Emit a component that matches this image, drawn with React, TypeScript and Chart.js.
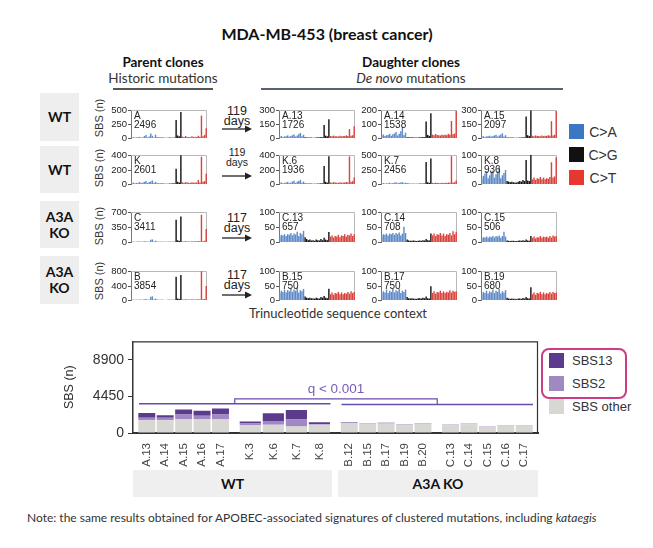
import React, { useEffect, useRef } from "react";
import { Chart, registerables } from "chart.js";
Chart.register(...registerables);

const SANS = "'Liberation Sans', Arial, Helvetica, sans-serif";
const HEAD = "Lato, 'Open Sans', sans-serif";

// ---------- mini trinucleotide spectra (16 C>A, 16 C>G, 16 C>T contexts) ----------
const mutationTypes = ["C>A", "C>G", "C>T"];
const typeBarColors = ["#5f8bc8", "#151515", "#d8443d"];
const typeLegendColors = ["#3a78c4", "#111111", "#e8372f"];

const specA = [10,15,8,12, 14,20,8,15, 35,55,12,25, 80,40,10,60,
  10,8,6,8, 6,5,4,6, 8,6,5,8, 320,45,30,465,
  25,18,35,20, 18,15,30,18, 22,18,40,22, 400,30,55,175];
const specA13 = [15,22,12,18, 20,28,14,22, 30,38,16,28, 42,55,18,35,
  8,6,4,6, 5,4,3,5, 8,6,10,8, 140,25,18,200,
  22,18,26,20, 18,16,24,18, 22,20,28,22, 95,24,30,127];
const specA14 = [18,25,14,20, 22,30,16,26, 32,42,18,30, 48,75,20,38,
  6,5,4,5, 4,3,3,4, 6,5,8,6, 117,22,15,176,
  24,20,28,22, 20,18,24,20, 24,20,30,24, 122,26,32,195];
const specA15 = [14,20,12,18, 18,25,14,22, 28,35,15,26, 38,50,16,30,
  6,5,4,5, 4,3,3,4, 6,5,8,6, 230,30,20,295,
  24,20,28,22, 22,18,26,20, 24,22,30,24, 180,28,35,290];
const specK = [12,20,10,15, 18,26,12,20, 30,40,14,28, 35,48,15,30,
  8,6,5,6, 5,4,4,5, 8,6,10,8, 212,30,20,395,
  22,18,26,20, 18,16,24,18, 22,20,56,22, 376,30,40,140];
const specK6 = [14,22,10,16, 20,30,12,22, 34,44,14,30, 40,55,16,34,
  8,6,5,6, 5,4,4,5, 8,6,10,8, 250,30,18,383,
  22,18,26,20, 18,16,24,18, 22,20,28,22, 380,30,40,90];
const specK7 = [10,16,8,12, 14,22,10,16, 24,30,12,20, 28,35,12,22,
  8,6,5,6, 5,4,4,5, 8,6,10,8, 380,30,20,440,
  20,16,24,18, 16,14,22,16, 20,18,26,20, 480,26,32,60];
const specK8 = [18,28,36,44, 20,30,40,46, 22,34,44,60, 20,30,38,48,
  10,8,6,8, 6,5,5,8, 10,8,14,10, 83,12,10,100,
  16,22,14,20, 18,24,16,22, 16,20,18,24, 75,22,26,92];
const specC = [8,12,6,10, 10,14,6,12, 15,20,8,14, 55,60,10,30,
  6,5,4,5, 4,3,3,4, 6,5,8,6, 517,40,25,597,
  15,12,20,14, 12,10,18,12, 15,14,22,15, 636,20,30,302];
const specC13 = [18,24,22,26, 20,26,24,30, 22,28,25,34, 20,30,26,37,
  16,10,6,8, 5,6,4,8, 6,5,10,6, 14,8,6,33,
  18,22,15,20, 18,24,16,22, 20,26,18,24, 22,28,20,26];
const specC14 = [20,26,24,28, 22,28,26,30, 24,30,26,32, 22,28,51,30,
  8,5,4,4, 5,4,3,4, 5,4,6,5, 10,6,5,28,
  22,28,20,26, 24,30,22,28, 20,26,24,30, 22,36,26,34];
const specC15 = [12,16,15,18, 14,18,16,20, 15,20,18,22, 14,20,34,18,
  5,4,3,4, 4,3,3,4, 5,4,6,4, 8,5,4,20,
  14,18,12,16, 15,20,14,18, 16,18,14,20, 15,22,18,20];
const specB = [8,12,6,10, 10,15,6,12, 18,25,8,15, 90,100,12,40,
  6,5,4,5, 4,3,3,4, 6,5,8,6, 644,40,25,690,
  15,12,20,14, 12,10,18,12, 15,14,22,15, 790,20,30,386];
const specB15 = [24,32,28,36, 26,34,30,40, 28,36,32,44, 26,34,30,38,
  12,8,6,8, 6,5,5,8, 6,5,10,8, 14,8,6,39,
  20,26,18,24, 22,28,20,26, 20,24,22,28, 22,30,24,28];
const specB17 = [22,30,26,36, 24,32,28,38, 26,34,30,40, 24,32,28,36,
  10,6,5,6, 5,4,4,6, 6,5,8,6, 12,6,5,47,
  24,30,22,28, 26,32,24,30, 24,28,26,34, 26,32,28,30];
const specB19 = [20,28,24,32, 22,30,26,36, 24,32,28,38, 22,30,26,34,
  8,5,4,5, 4,4,3,5, 5,4,7,5, 10,6,5,44,
  20,26,18,24, 22,28,20,26, 20,24,22,28, 22,28,24,26];

const panelNames = ["A","A.13","A.14","A.15","K","K.6","K.7","K.8","C","C.13","C.14","C.15","B","B.15","B.17","B.19"];
const panelTotals = ["2496","1726","1538","2097","2601","1936","2456","936","3411","657","708","506","3854","750","750","680"];
const panelMax = [500,300,200,300, 400,400,500,100, 700,100,100,100, 800,100,100,100];
const panelSpectra = [specA,specA13,specA14,specA15, specK,specK6,specK7,specK8, specC,specC13,specC14,specC15, specB,specB15,specB17,specB19];

const rowLabels = [["WT"],["WT"],["A3A","KO"],["A3A","KO"]];
const rowDays = ["119","119","117","117"];

// ---------- main stacked chart ----------
const cloneLabels = ["A.13","A.14","A.15","A.16","A.17","K.3","K.6","K.7","K.8","B.12","B.15","B.17","B.19","B.20","C.13","C.14","C.15","C.16","C.17"];
const cloneSubgroup = ["A","A","A","A","A","K","K","K","K","B","B","B","B","B","C","C","C","C","C"];
const subgroups = ["A","K","B","C"];
const conditionLabels = ["WT","A3A KO"];
const sbsOther = [1550,1550,1700,1700,1700, 970,1000,780,1000, 1220,1120,1160,1000,1120, 950,1070,720,840,840];
const sbs2 = [310,310,540,390,540, 190,460,850,80, 30,30,30,30,30, 20,20,20,20,20];
const sbs13 = [580,310,620,620,740, 230,930,1160,230, 50,50,50,50,50, 30,30,30,30,30];
const conditionMeans = [3550, 3480];
const bracketLevel = 4150;
const qLabel = "q < 0.001";
const yTicks = [0, 4450, 8900];
const yMax = 11150;

const layerNames = ["SBS other", "SBS2", "SBS13"];
const layerColors = ["#d9d7d3", "#a089c2", "#5c3b8e"];
const purple = "#6a4cae";

// ---------- geometry ----------
const rowTop = [110, 155, 212, 271];
const rowBottom = [138, 184, 242, 300];
const colLeft = [131, 279, 381, 481];
const colRight = [207, 355, 457, 557];
const sbsLabelY = [118, 168, 226, 281];
const rowBoxTop = [93, 146, 201, 256];
const rowBoxBottom = [141, 193, 248, 304];

function abs(x: number, y: number, extra: any = {}): React.CSSProperties {
  return { position: "absolute", left: x, top: y, transform: "translate(-50%,-50%)", whiteSpace: "nowrap", ...extra };
}

function MiniSpectrum({ idx }: { idx: number }) {
  const ref = useRef<HTMLCanvasElement>(null);
  const row = Math.floor(idx / 4), col = idx % 4;
  const AXW = 30, PT = 6, PB = 6;
  const w = colRight[col] - colLeft[col] + AXW;
  const h = rowBottom[row] - rowTop[row] + PT + PB;
  useEffect(() => {
    const values = panelSpectra[idx];
    const max = panelMax[idx];
    const tickValues = [0, max / 2, max];
    const per = values.length / mutationTypes.length;
    const framePlugin = {
      id: "frame",
      beforeDatasetsDraw(chart: any) {
        const { ctx, chartArea: a } = chart;
        ctx.save();
        ctx.strokeStyle = "#b8b8b8";
        ctx.lineWidth = 1;
        ctx.beginPath();
        ctx.moveTo(a.left, a.top + 0.5);
        ctx.lineTo(a.right - 0.5, a.top + 0.5);
        ctx.lineTo(a.right - 0.5, a.bottom);
        ctx.stroke();
        ctx.restore();
      },
      afterDraw(chart: any) {
        const { ctx, chartArea: a, scales } = chart;
        ctx.save();
        ctx.strokeStyle = "#555";
        ctx.lineWidth = 1;
        ctx.fillStyle = "#222";
        ctx.font = `9.5px ${SANS}`;
        ctx.textAlign = "right";
        ctx.textBaseline = "middle";
        tickValues.forEach((v) => {
          const y = Math.round(scales.y.getPixelForValue(v)) + 0.5;
          ctx.beginPath();
          ctx.moveTo(a.left - 3, y);
          ctx.lineTo(a.left, y);
          ctx.stroke();
          ctx.fillText(String(v), a.left - 4, y);
        });
        ctx.fillStyle = "#222";
        ctx.font = `10px ${SANS}`;
        ctx.textAlign = "left";
        ctx.textBaseline = "top";
        ctx.fillText(panelNames[idx], a.left + 3, a.top + 1);
        ctx.fillText(panelTotals[idx], a.left + 3, a.top + 10);
        ctx.restore();
      },
    };
    const chart = new Chart(ref.current!, {
      type: "bar",
      data: {
        labels: values.map((_, i) => String(i)),
        datasets: [{
          data: values,
          backgroundColor: values.map((_, i) => typeBarColors[Math.floor(i / per)]),
          barPercentage: 0.9,
          categoryPercentage: 1,
        }],
      },
      options: {
        animation: false,
        responsive: false,
        maintainAspectRatio: false,
        layout: { padding: { top: PT, bottom: PB, left: 0, right: 0 } },
        plugins: { legend: { display: false }, tooltip: { enabled: false } },
        scales: {
          x: { display: false },
          y: {
            min: 0, max,
            afterFit: (s: any) => { s.width = AXW; },
            ticks: { display: false },
            grid: { display: false, drawTicks: false },
            border: { display: true, color: "#777" },
          },
        },
      } as any,
      plugins: [framePlugin],
    });
    return () => chart.destroy();
  }, [idx]);
  return (
    <canvas ref={ref} width={w} height={h}
      style={{ position: "absolute", left: colLeft[col] - AXW, top: rowTop[row] - PT, width: w, height: h, zIndex: 2 }} />
  );
}

function MainChart() {
  const ref = useRef<HTMLCanvasElement>(null);
  const LEFT = 60, TOP = 329, W = 480, H = 141;
  useEffect(() => {
    const groupMembers = subgroups.map((g) => cloneSubgroup.map((s, i) => (s === g ? i : -1)).filter((i) => i >= 0));
    const maxPer = Math.max(...groupMembers.map((m) => m.length));
    const layers = [sbsOther, sbs2, sbs13];
    const datasets: any[] = [];
    for (let p = 0; p < maxPer; p++) {
      layers.forEach((layer, li) => {
        datasets.push({
          label: layerNames[li],
          data: groupMembers.map((m) => (m[p] === undefined ? null : layer[m[p]])),
          backgroundColor: layerColors[li],
          stack: "pos" + p,
          posIndex: p,
          layerIndex: li,
        });
      });
    }
    const overlay = {
      id: "overlay",
      afterDraw(chart: any) {
        const { ctx, chartArea: a, scales } = chart;
        const xs = scales.x, ys = scales.y;
        ctx.save();
        ctx.strokeStyle = "#333";
        ctx.lineWidth = 1.2;
        ctx.beginPath();
        ctx.moveTo(a.left, a.top + 0.5);
        ctx.lineTo(a.right - 0.5, a.top + 0.5);
        ctx.lineTo(a.right - 0.5, a.bottom);
        ctx.stroke();
        ctx.fillStyle = "#444";
        ctx.font = `11.5px ${SANS}`;
        ctx.textAlign = "right";
        ctx.textBaseline = "middle";
        chart.data.datasets.forEach((ds: any, di: number) => {
          if (ds.layerIndex !== 0) return;
          const meta = chart.getDatasetMeta(di);
          groupMembers.forEach((m, gi) => {
            const ci = m[ds.posIndex];
            if (ci === undefined) return;
            const el = meta.data[gi];
            ctx.save();
            ctx.translate(el.x, a.bottom + 10);
            ctx.rotate(-Math.PI / 2);
            ctx.fillText(cloneLabels[ci], 0, 0);
            ctx.restore();
          });
        });
        const half = (xs.getPixelForValue(1) - xs.getPixelForValue(0)) / 2;
        const spans = [[0, 1], [2, 3]].map(([g0, g1], k) => {
          const x0 = xs.getPixelForValue(g0) - half + 6;
          const x1 = xs.getPixelForValue(g1) + half - 5;
          return { x0, x1, y: ys.getPixelForValue(conditionMeans[k]) };
        });
        ctx.strokeStyle = purple;
        ctx.lineWidth = 1.5;
        spans.forEach((s) => {
          ctx.beginPath();
          ctx.moveTo(s.x0, s.y);
          ctx.lineTo(s.x1, s.y);
          ctx.stroke();
        });
        const yb = ys.getPixelForValue(bracketLevel);
        const c0 = (spans[0].x0 + spans[0].x1) / 2, c1 = (spans[1].x0 + spans[1].x1) / 2;
        ctx.lineWidth = 1.2;
        ctx.beginPath();
        ctx.moveTo(c0, spans[0].y);
        ctx.lineTo(c0, yb);
        ctx.lineTo(c1, yb);
        ctx.lineTo(c1, spans[1].y);
        ctx.stroke();
        ctx.fillStyle = "#7a5cb8";
        ctx.font = `13.5px ${SANS}`;
        ctx.textAlign = "center";
        ctx.textBaseline = "alphabetic";
        ctx.fillText(qLabel, (c0 + c1) / 2, yb - 6);
        ctx.restore();
      },
    };
    const chart = new Chart(ref.current!, {
      type: "bar",
      data: { labels: subgroups, datasets },
      options: {
        animation: false,
        responsive: false,
        maintainAspectRatio: false,
        layout: { padding: { top: 8, right: 2, left: 0, bottom: 0 } },
        datasets: { bar: { categoryPercentage: 0.91, barPercentage: 0.92, skipNull: true, borderWidth: 0 } },
        plugins: { legend: { display: false }, tooltip: { enabled: false } },
        scales: {
          x: {
            stacked: true,
            ticks: { display: false },
            grid: { display: false, drawTicks: false },
            border: { display: true, color: "#333", width: 2 },
            afterFit: (s: any) => { s.height = 37; },
          },
          y: {
            stacked: true,
            min: 0,
            max: yMax,
            afterBuildTicks: (s: any) => { s.ticks = yTicks.map((v) => ({ value: v })); },
            afterFit: (s: any) => { s.width = 73; },
            title: { display: true, text: "SBS (n)", font: { size: 12.5, family: SANS }, color: "#333", padding: { top: 2, bottom: 4 } },
            ticks: { font: { size: 14, family: SANS }, color: "#333", padding: 4, autoSkip: false, callback: (v: any) => String(v) },
            grid: { drawOnChartArea: false, tickLength: 5, color: "#333" },
            border: { color: "#333", width: 1.5 },
          },
        },
      } as any,
      plugins: [overlay],
    });
    return () => chart.destroy();
  }, []);
  return <canvas ref={ref} width={W} height={H} style={{ position: "absolute", left: LEFT, top: TOP, width: W, height: H }} />;
}

function Arrow({ x, y }: { x: number; y: number }) {
  return (
    <svg width={30} height={8} style={{ position: "absolute", left: x, top: y - 4 }}>
      <line x1={0} y1={4} x2={24} y2={4} stroke="#222" strokeWidth={1.3} />
      <polygon points="23,0.5 30,4 23,7.5" fill="#222" />
    </svg>
  );
}

export default function App() {
  const dayFont = [12.5, 10.5, 12.5, 12.5];
  const dayY = [[111, 121, 129], [152, 162, 176], [218, 228, 238], [275, 285, 295]];
  return (
    <div style={{ position: "absolute", left: 0, top: 0, width: 653, height: 548, background: "#fff", overflow: "hidden", fontFamily: SANS, color: "#222" }}>
      <div style={abs(327, 33, { fontFamily: HEAD, fontSize: 16, fontWeight: 700, color: "#111" })}>MDA-MB-453 (breast cancer)</div>
      <div style={abs(163, 62, { fontFamily: HEAD, fontSize: 13.5, fontWeight: 700, color: "#111" })}>Parent clones</div>
      <div style={abs(163, 78, { fontFamily: HEAD, fontSize: 13.5, color: "#333" })}>Historic mutations</div>
      <div style={{ position: "absolute", left: 113, top: 88, width: 100, height: 1.5, background: "#555" }} />
      <div style={abs(411, 62, { fontFamily: HEAD, fontSize: 13.5, fontWeight: 700, color: "#111" })}>Daughter clones</div>
      <div style={abs(411, 78, { fontFamily: HEAD, fontSize: 13.5, color: "#333" })}><i>De novo</i> mutations</div>
      <div style={{ position: "absolute", left: 261, top: 88, width: 302, height: 1.5, background: "#5a6270" }} />

      {rowLabels.map((lines, r) => (
        <React.Fragment key={"row" + r}>
          <div style={{ position: "absolute", left: 40, top: rowBoxTop[r], width: 39, height: rowBoxBottom[r] - rowBoxTop[r], background: "#eeeeee" }} />
          <div style={abs(59.5, (rowBoxTop[r] + rowBoxBottom[r]) / 2, { fontFamily: HEAD, fontWeight: 700, fontSize: 14, lineHeight: "16px", textAlign: "center", color: "#111" })}>
            {lines.map((l, i) => <div key={i}>{l}</div>)}
          </div>
          <div style={abs(99, sbsLabelY[r], { fontSize: 11, color: "#333", transform: "translate(-50%,-50%) rotate(-90deg)" })}>SBS (n)</div>
          <div style={abs(237, dayY[r][0], { fontSize: dayFont[r], color: "#222" })}>{rowDays[r]}</div>
          <div style={abs(237, dayY[r][1], { fontSize: dayFont[r], color: "#222" })}>days</div>
          <Arrow x={222} y={dayY[r][2]} />
        </React.Fragment>
      ))}

      {panelNames.map((_, i) => <MiniSpectrum key={i} idx={i} />)}

      {mutationTypes.map((t, i) => (
        <React.Fragment key={t}>
          <div style={{ position: "absolute", left: 569, top: 124 + i * 23, width: 15, height: 15, background: typeLegendColors[i] }} />
          <div style={abs(603, 131.5 + i * 23, { fontSize: 14, color: "#333" })}>{t}</div>
        </React.Fragment>
      ))}

      <div style={abs(338, 313, { fontFamily: HEAD, fontSize: 13, color: "#333" })}>Trinucleotide sequence context</div>

      <MainChart />

      {conditionLabels.map((c, i) => (
        <div key={c} style={{ position: "absolute", left: i === 0 ? 133 : 338, top: 470, width: i === 0 ? 199 : 200, height: 27, background: "#efefef", display: "flex", alignItems: "center", justifyContent: "center", fontFamily: HEAD, fontWeight: 700, fontSize: 14, color: "#111" }}>{c}</div>
      ))}

      <div style={{ position: "absolute", left: 541, top: 348, width: 82, height: 47, border: "2.5px solid #cc3d86", borderRadius: 8 }} />
      {[2, 1, 0].map((li, k) => (
        <React.Fragment key={li}>
          <div style={{ position: "absolute", left: 549, top: 353 + k * 23, width: 15, height: 15, background: layerColors[li] }} />
          <div style={{ position: "absolute", left: 572, top: 352 + k * 23, fontSize: 13, lineHeight: "17px", color: "#333", whiteSpace: "nowrap" }}>{layerNames[li]}</div>
        </React.Fragment>
      ))}

      <div style={{ position: "absolute", left: 27, top: 510, fontFamily: HEAD, fontSize: 12, color: "#333", whiteSpace: "nowrap" }}>
        Note: the same results obtained for APOBEC-associated signatures of clustered mutations, including <i>kataegis</i>
      </div>
    </div>
  );
}
